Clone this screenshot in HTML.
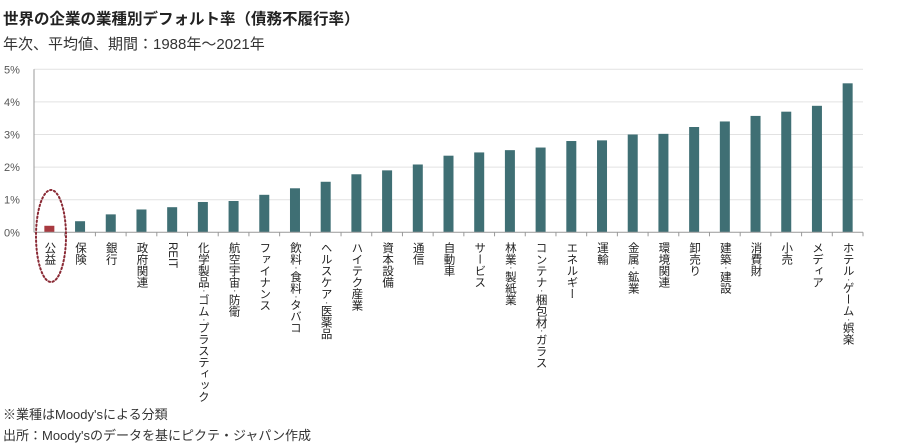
<!DOCTYPE html>
<html><head><meta charset="utf-8"><style>
body{margin:0;background:#fff;width:903px;height:442px;overflow:hidden;font-family:"Liberation Sans","Noto Sans CJK JP",sans-serif;color:#333}
.t{position:absolute;left:3px;white-space:nowrap}
</style></head><body>
<div class="t" style="top:7px;font-size:15.5px;font-weight:bold;color:#222">世界の企業の業種別デフォルト率（債務不履行率）</div>
<div class="t" style="top:33px;font-size:15px;color:#333">年次、平均値、期間：1988年～2021年</div>
<svg id="c" width="903" height="442" style="position:absolute;left:0;top:0"></svg>
<div class="t" style="top:404px;font-size:13px">※業種はMoody'sによる分類</div>
<div class="t" style="top:425px;font-size:13px">出所：Moody'sのデータを基にピクテ・ジャパン作成</div>
<script>
const categories=["公益","保険","銀行","政府関連","REIT","化学製品・ゴム・プラスティック","航空宇宙・防衛","ファイナンス","飲料・食料・タバコ","ヘルスケア・医薬品","ハイテク産業","資本設備","通信","自動車","サービス","林業・製紙業","コンテナ・梱包材・ガラス","エネルギー","運輸","金属・鉱業","環境関連","卸売り","建築・建設","消費財","小売","メディア","ホテル・ゲーム・娯楽"];
const values=[0.2,0.34,0.55,0.7,0.77,0.93,0.96,1.15,1.35,1.55,1.78,1.9,2.08,2.35,2.45,2.52,2.6,2.8,2.82,3.0,3.02,3.23,3.4,3.57,3.7,3.88,4.57];
const ticks=[0,1,2,3,4,5];
const tickLabels=["0%","1%","2%","3%","4%","5%"];
const NS="http://www.w3.org/2000/svg",svg=document.getElementById('c');
const L=34,R=863,Y0=232.3,Y5=69.3;
const y=v=>Y0-(Y0-Y5)*v/5;
const bw=(R-L)/categories.length;
const xc=i=>L+bw*(i+0.5);
function mk(t,a,p){const e=document.createElementNS(NS,t);for(const k in a)e.setAttribute(k,a[k]);(p||svg).appendChild(e);return e;}
ticks.forEach((t,i)=>{
 if(t>0){const g=mk('line',{x1:L,x2:R,y1:y(t),y2:y(t),stroke:'#e2e2e2','stroke-width':1});
 
 }
 const tx=mk('text',{x:4,y:y(t)+4,'font-size':11,fill:'#555'});tx.textContent=tickLabels[i];
 
 
});
const ya=mk('line',{x1:L,x2:L,y1:Y5,y2:Y0,stroke:'#999'});


categories.forEach((c,i)=>{
 const b=mk('rect',{x:xc(i)-5,y:y(values[i]),width:10,height:Y0-y(values[i]),fill:i===0?'#a83a40':'#3f6f74'});
 
 
 const tk=mk('line',{x1:L+bw*(i+1),x2:L+bw*(i+1),y1:Y0,y2:Y0+4,stroke:'#999'});
 
 
 const tx=mk('text',{x:xc(i),y:242,'font-size':11.5,fill:'#222',style:'writing-mode:vertical-rl'});
 c.split('・').forEach((part,j)=>{
   if(j>0){const d=mk('tspan',{'font-size':5.5},tx);d.textContent='・';}
   const s=mk('tspan',{},tx);s.textContent=part;
 });
 
 
});
const xa=mk('line',{x1:L,x2:R,y1:Y0,y2:Y0,stroke:'#999'});


const el=mk('ellipse',{cx:51,cy:236,rx:15,ry:46,fill:'none',stroke:'#8a2a35','stroke-width':2,'stroke-dasharray':'1.5 2.5','stroke-linecap':'round'});


</script>
</body></html>
